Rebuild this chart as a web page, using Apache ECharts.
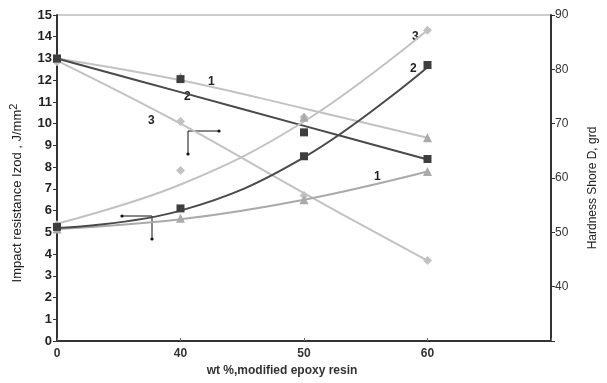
<!DOCTYPE html>
<html>
<head>
<meta charset="utf-8">
<script src="https://cdn.jsdelivr.net/npm/echarts@6/dist/echarts.min.js"></script>
<style>
  html, body { margin: 0; padding: 0; background: #fff; }
  #chart { width: 607px; height: 383px; }
</style>
</head>
<body>
<div id="chart"></div>
<script>
// wt % of modified epoxy resin (categories, evenly spaced)
const wtLabels = ['0', '40', '50', '60'];

// impact resistance, J/mm2 (left axis) - measured points
const impact1 = [5.15, 5.65, 6.5, 7.8];
const impact2 = [5.25, 6.1, 8.5, 12.7];
const impact3 = [5.35, 7.85, 10.3, 14.3];
// impact trendlines
const impactTrend1 = [5.15, 5.6, 6.5, 7.8];
const impactTrend2 = [5.2, 6.0, 8.45, 12.6];
const impactTrend3 = [5.4, 7.2, 10.1, 14.3];

// hardness Shore D (right axis) - measured points
const hard1 = [82, 78.6, 71.2, 67.4];
const hard2 = [82, 78.2, 68.4, 63.5];
const hard3 = [81.4, 70.4, 56.8, 44.8];
// hardness trendlines
const hardTrend1 = [82, 78, 72.8, 67.4];
const hardTrend2 = [82, 75.8, 69.6, 63.4];
const hardTrend3 = [81.6, 70, 57.2, 44.8];

const leftTicks = [0, 15, 1];
const rightTicks = [30, 90, 10];

const DARK = '#4a4a4a';
const MID = '#aaaaaa';
const LIGHT = '#c2c2c2';
const FONT = 'Liberation Sans';

function trend(data, yIdx, color) {
  return {
    type: 'line', data: data, yAxisIndex: yIdx, smooth: 0.4, showSymbol: false,
    lineStyle: { color: color, width: 2 }, z: 2, silent: true
  };
}
function points(data, yIdx, symbol, color, size) {
  return {
    type: 'line', data: data, yAxisIndex: yIdx, symbol: symbol, symbolSize: size,
    lineStyle: { width: 0, opacity: 0 }, itemStyle: { color: color }, z: 3, silent: true
  };
}
function txt(x, y, s) {
  return { type: 'text', left: x, top: y, style: { text: s, font: 'bold 12px ' + FONT, fill: '#222' } };
}
function seg(x1, y1, x2, y2) {
  return { type: 'line', shape: { x1: x1, y1: y1, x2: x2, y2: y2 }, style: { stroke: '#111', lineWidth: 1 } };
}
function dot(x, y) {
  return { type: 'circle', shape: { cx: x, cy: y, r: 1.6 }, style: { fill: '#111' } };
}

const chart = echarts.init(document.getElementById('chart'));
chart.setOption({
  animation: false,
  textStyle: { fontFamily: FONT },
  grid: { left: 53, right: 53, top: 15, bottom: 42, show: true, borderColor: '#999', borderWidth: 1 },
  xAxis: {
    type: 'category', boundaryGap: false, data: wtLabels.concat(['']),
    name: 'wt %,modified epoxy resin', nameLocation: 'middle', nameGap: 22,
    nameTextStyle: { fontSize: 12, fontWeight: 'bold', color: '#333', padding: [0, 44, 0, 0] },
    axisLine: { lineStyle: { color: '#333', width: 2 } },
    axisTick: { inside: true, length: 3, lineStyle: { color: '#666' } },
    axisLabel: { fontSize: 12, fontWeight: 'bold', color: '#333', margin: 7 },
    splitLine: { show: false }
  },
  yAxis: [{
    type: 'value', min: leftTicks[0], max: leftTicks[1], interval: leftTicks[2],
    name: 'Impact resistance Izod , J/mm{sup|2}', nameLocation: 'middle', nameGap: 30, nameRotate: 90,
    nameTextStyle: { fontSize: 13, color: '#222', padding: [0, 0, 0, -30],
      rich: { sup: { fontSize: 11, verticalAlign: 'top', padding: [0, 0, 8, 0], color: '#222' } } },
    axisLine: { show: true, lineStyle: { color: '#333', width: 2 } },
    axisTick: { show: true, length: 4, lineStyle: { color: '#333' } },
    axisLabel: { fontSize: 13, fontWeight: 'bold', color: '#222', margin: 5 },
    splitLine: { show: false }
  }, {
    type: 'value', min: rightTicks[0], max: rightTicks[1], interval: rightTicks[2], position: 'right',
    name: 'Hardness Shore D, grd', nameLocation: 'middle', nameGap: 36, nameRotate: 90,
    nameTextStyle: { fontSize: 12, color: '#222', padding: [0, 0, 0, -20] },
    axisLine: { show: true, lineStyle: { color: '#333', width: 2 } },
    axisTick: { show: true, length: 4, lineStyle: { color: '#333' } },
    axisLabel: { fontSize: 12, color: '#333', margin: 4,
      formatter: v => (v === rightTicks[0] ? '' : String(v)) },
    splitLine: { show: false }
  }],
  series: [
    trend(hardTrend1, 1, LIGHT),
    trend(hardTrend3, 1, LIGHT),
    trend(hardTrend2, 1, DARK),
    trend(impactTrend1, 0, MID),
    trend(impactTrend3, 0, LIGHT),
    trend(impactTrend2, 0, DARK),
    points(impact3, 0, 'diamond', LIGHT, 9),
    points(hard3, 1, 'diamond', LIGHT, 9),
    points(impact1, 0, 'triangle', MID, 9),
    points(hard1, 1, 'triangle', MID, 9),
    points(impact2, 0, 'rect', '#3e3e3e', 8),
    points(hard2, 1, 'rect', '#3e3e3e', 8)
  ],
  graphic: [
    txt(208, 76, '1'), txt(184, 91, '2'), txt(148, 115, '3'),
    txt(374, 171, '1'), txt(410, 63, '2'), txt(412, 31, '3'),
    seg(188, 131, 219, 131), seg(188, 131, 188, 154), dot(219, 131), dot(188, 154),
    seg(122, 216, 152, 216), seg(152, 216, 152, 239), dot(122, 216), dot(152, 239)
  ]
});
</script>
</body>
</html>
